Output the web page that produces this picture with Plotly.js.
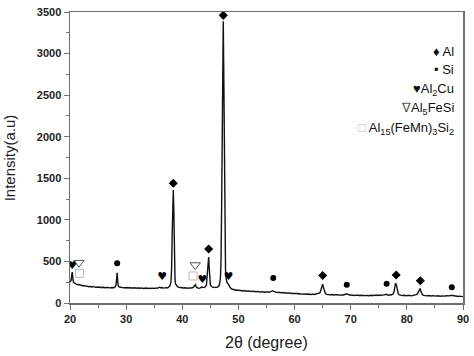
<!DOCTYPE html>
<html>
<head>
<meta charset="utf-8">
<script src="https://cdn.plot.ly/plotly-3.0.1.min.js"></script>
<style>html,body{margin:0;padding:0;background:#fff;}#chart{width:474px;height:356px;}</style>
</head>
<body>
<div id="chart"></div>
<script>
// XRD pattern: [2theta, intensity]
const pattern = [
[20.0,250],[20.1,262],[20.2,270],[20.3,330],[20.4,372],[20.5,300],[20.6,252],[20.8,238],[21.0,230],[21.2,226],
[21.4,219],[21.6,222],[21.8,214],[22.0,212],[22.2,208],[22.4,211],[22.6,203],[22.8,206],[23.0,200],[23.2,203],
[23.4,196],[23.6,199],[23.8,193],[24.0,197],[24.2,191],[24.4,194],[24.6,189],[24.8,193],[25.0,188],[25.2,192],
[25.4,186],[25.6,190],[25.8,185],[26.0,189],[26.2,184],[26.4,188],[26.6,183],[26.8,187],[27.0,182],[27.2,186],
[27.4,181],[27.6,186],[27.8,184],[28.0,190],[28.2,215],[28.3,290],[28.4,362],[28.5,260],[28.6,205],[28.8,192],
[29.0,188],[29.2,184],[29.4,188],[29.6,182],[29.8,186],[30.0,181],[30.2,186],[30.4,180],[30.6,185],[30.8,179],
[31.0,184],[31.2,178],[31.4,183],[31.6,178],[31.8,182],[32.0,177],[32.2,182],[32.4,176],[32.6,181],[32.8,176],
[33.0,180],[33.2,175],[33.4,180],[33.6,176],[33.8,180],[34.0,175],[34.2,179],[34.4,174],[34.6,179],[34.8,175],
[35.0,180],[35.2,176],[35.4,181],[35.6,177],[35.8,184],[36.0,190],[36.2,182],[36.4,186],[36.6,179],[36.8,183],
[37.0,180],[37.2,185],[37.4,182],[37.6,190],[37.8,205],[38.0,260],[38.1,420],[38.2,820],[38.3,1250],[38.4,1360],
[38.5,1100],[38.6,560],[38.7,290],[38.8,230],[39.0,205],[39.2,195],[39.4,190],[39.6,186],[39.8,183],[40.0,185],
[40.2,180],[40.4,183],[40.6,178],[40.8,182],[41.0,177],[41.2,181],[41.4,176],[41.6,180],[41.8,183],[42.0,190],
[42.2,212],[42.35,222],[42.5,190],[42.7,180],[42.9,176],[43.1,179],[43.3,183],[43.5,192],[43.7,186],[43.9,188],
[44.1,195],[44.3,215],[44.45,320],[44.6,500],[44.7,553],[44.8,420],[44.9,280],[45.0,220],[45.2,198],[45.4,190],
[45.6,186],[45.8,188],[46.0,185],[46.2,190],[46.4,196],[46.6,215],[46.8,300],[46.9,520],[47.0,1100],[47.1,2200],
[47.2,3100],[47.3,3390],[47.4,2700],[47.5,1500],[47.6,700],[47.7,400],[47.8,300],[47.9,255],[48.0,240],[48.2,228],
[48.4,200],[48.6,180],[48.8,168],[49.0,163],[49.2,158],[49.4,161],[49.6,154],[49.8,157],[50.0,150],[50.2,154],
[50.4,148],[50.6,151],[50.8,145],[51.0,149],[51.2,143],[51.4,147],[51.6,141],[51.8,145],[52.0,140],[52.2,144],
[52.4,138],[52.6,142],[52.8,137],[53.0,141],[53.2,135],[53.4,139],[53.6,134],[53.8,138],[54.0,132],[54.2,136],
[54.4,131],[54.6,135],[54.8,130],[55.0,134],[55.2,129],[55.4,133],[55.6,131],[55.8,136],[56.0,142],[56.1,148],
[56.3,140],[56.5,132],[56.7,128],[56.9,131],[57.1,125],[57.3,129],[57.5,123],[57.7,127],[57.9,121],[58.1,125],
[58.3,119],[58.5,123],[58.7,117],[58.9,121],[59.1,116],[59.3,120],[59.5,114],[59.7,118],[59.9,112],[60.1,116],
[60.3,110],[60.5,114],[60.7,109],[60.9,113],[61.1,107],[61.3,111],[61.5,106],[61.7,110],[61.9,105],[62.1,109],
[62.3,104],[62.5,108],[62.7,103],[62.9,107],[63.1,102],[63.3,106],[63.5,102],[63.7,106],[63.9,103],[64.1,107],
[64.3,110],[64.5,122],[64.7,160],[64.85,205],[65.0,225],[65.15,185],[65.3,135],[65.5,112],[65.7,104],[65.9,100],
[66.1,104],[66.3,98],[66.5,102],[66.7,97],[66.9,101],[67.1,96],[67.3,100],[67.5,95],[67.7,99],[67.9,95],
[68.1,99],[68.3,94],[68.5,98],[68.7,96],[68.9,102],[69.1,108],[69.3,110],[69.5,103],[69.7,97],[69.9,93],
[70.1,97],[70.3,92],[70.5,96],[70.7,91],[70.9,95],[71.1,90],[71.3,94],[71.5,90],[71.7,94],[71.9,89],
[72.1,93],[72.3,89],[72.5,93],[72.7,88],[72.9,92],[73.1,88],[73.3,92],[73.5,87],[73.7,93],[73.9,88],
[74.1,94],[74.3,89],[74.5,95],[74.7,90],[74.9,96],[75.1,91],[75.3,97],[75.5,92],[75.7,98],[75.9,95],
[76.1,101],[76.3,104],[76.5,98],[76.7,94],[76.9,97],[77.1,95],[77.3,99],[77.5,105],[77.7,130],[77.85,190],
[78.0,238],[78.15,215],[78.3,150],[78.45,115],[78.6,100],[78.8,94],[79.0,92],[79.2,89],[79.4,93],[79.6,88],
[79.8,92],[80.0,87],[80.2,91],[80.4,86],[80.6,90],[80.8,86],[81.0,90],[81.2,88],[81.4,93],[81.6,96],
[81.8,104],[82.0,125],[82.2,160],[82.35,175],[82.5,140],[82.65,110],[82.8,97],[83.0,92],[83.2,88],[83.4,91],
[83.6,86],[83.8,90],[84.0,85],[84.2,89],[84.4,84],[84.6,88],[84.8,84],[85.0,88],[85.2,83],[85.4,87],
[85.6,83],[85.8,87],[86.0,82],[86.2,86],[86.4,82],[86.6,86],[86.8,83],[87.0,87],[87.2,84],[87.4,89],
[87.6,86],[87.8,92],[88.0,95],[88.2,90],[88.4,87],[88.6,84],[88.8,81],[89.0,84],[89.2,79],[89.4,82],
[89.6,77],[89.8,80],[90.0,76]
];
const twoTheta = pattern.map(p => p[0]);
const intensity = pattern.map(p => p[1]);

// Phase marker positions [2theta, label height]
const alX = [38.4, 44.7, 47.3, 65.0, 78.1, 82.4];
const alY = [1440, 650, 3460, 330, 337, 268];
const siX = [28.4, 56.2, 69.3, 76.4, 88.0];
const siY = [478, 300, 220, 232, 190];
const al2cuX = [20.4, 36.4, 43.6, 48.2];
const al2cuY = [440, 310, 275, 310];
const al5fesiX = [21.6, 42.3];
const al5fesiY = [485, 457];
const al15X = [21.7, 41.9];
const al15Y = [357, 325];

const legendLabels = [
  '♦ Al',
  '• Si',
  '♥Al<sub>2</sub>Cu',
  '<span style="color:#555">∇</span>Al<sub>5</sub>FeSi',
  '<span style="color:#bbb">□</span> Al<sub>15</sub>(FeMn)<sub>3</sub>Si<sub>2</sub>'
];
const legendY = [0.864, 0.801, 0.732, 0.670, 0.601];

const xTitle = '2θ (degree)';
const yTitle = 'Intensity(a.u)';

const traces = [
  {x: twoTheta, y: intensity, type: 'scatter', mode: 'lines',
   line: {color: '#111', width: 1.4}, hoverinfo: 'skip'},
  {x: alX, y: alY, type: 'scatter', mode: 'markers',
   marker: {symbol: 'diamond', size: 7, color: '#000'}},
  {x: siX, y: siY, type: 'scatter', mode: 'markers',
   marker: {symbol: 'circle', size: 6, color: '#000'}},
  {x: al2cuX, y: al2cuY, type: 'scatter', mode: 'text', text: al2cuX.map(() => '♥'),
   textfont: {family: 'DejaVu Sans', size: 11, color: '#000'}, textposition: 'middle center'},
  {x: al5fesiX, y: al5fesiY, type: 'scatter', mode: 'markers',
   marker: {symbol: 'triangle-down-open', size: 9, color: '#555', line: {width: 1}}},
  {x: al15X, y: al15Y, type: 'scatter', mode: 'markers',
   marker: {symbol: 'square-open', size: 8, color: '#bbb', line: {width: 1}}}
];

const annotations = legendLabels.map((t, i) => ({
  xref: 'paper', yref: 'paper', x: 0.981, y: legendY[i],
  xanchor: 'right', yanchor: 'middle', showarrow: false, text: t,
  font: {family: 'Liberation Sans, Arial, sans-serif', size: 13, color: '#111'}
}));
annotations.push({
  xref: 'paper', yref: 'paper', x: -0.153, y: 0.5, textangle: -90,
  xanchor: 'center', yanchor: 'middle', showarrow: false, text: yTitle,
  font: {family: 'Liberation Sans, Arial, sans-serif', size: 15, color: '#222'}
});
annotations.push({
  xref: 'paper', yref: 'paper', x: 0.5, y: -0.137,
  xanchor: 'center', yanchor: 'middle', showarrow: false, text: xTitle,
  font: {family: 'Liberation Sans, Arial, sans-serif', size: 16, color: '#222'}
});

const tickFont = {family: 'Liberation Sans, Arial, sans-serif', size: 11, color: '#222', weight: 'bold'};

const layout = {
  width: 474, height: 356,
  margin: {l: 70, r: 11, t: 12, b: 53},
  paper_bgcolor: '#fff', plot_bgcolor: '#fff',
  showlegend: false,
  font: {family: 'Liberation Sans, Arial, sans-serif'},
  xaxis: {
    range: [20, 90], dtick: 10, tick0: 20, showgrid: false, zeroline: false,
    showline: true, mirror: true, linecolor: '#707070', linewidth: 1.5,
    ticks: 'outside', ticklen: 5, tickcolor: '#707070', tickwidth: 1,
    minor: {dtick: 5, ticks: 'outside', ticklen: 3, tickcolor: '#707070', showgrid: false},
    tickfont: tickFont
  },
  yaxis: {
    range: [0, 3500], dtick: 500, tick0: 0, showgrid: false, zeroline: false,
    showline: true, mirror: true, linecolor: '#707070', linewidth: 1.5,
    ticks: 'outside', ticklen: 5, tickcolor: '#707070', tickwidth: 1,
    minor: {dtick: 250, ticks: 'outside', ticklen: 3, tickcolor: '#707070', showgrid: false},
    tickfont: tickFont
  },
  annotations: annotations
};

Plotly.newPlot('chart', traces, layout, {displayModeBar: false, staticPlot: true});
</script>
</body>
</html>
